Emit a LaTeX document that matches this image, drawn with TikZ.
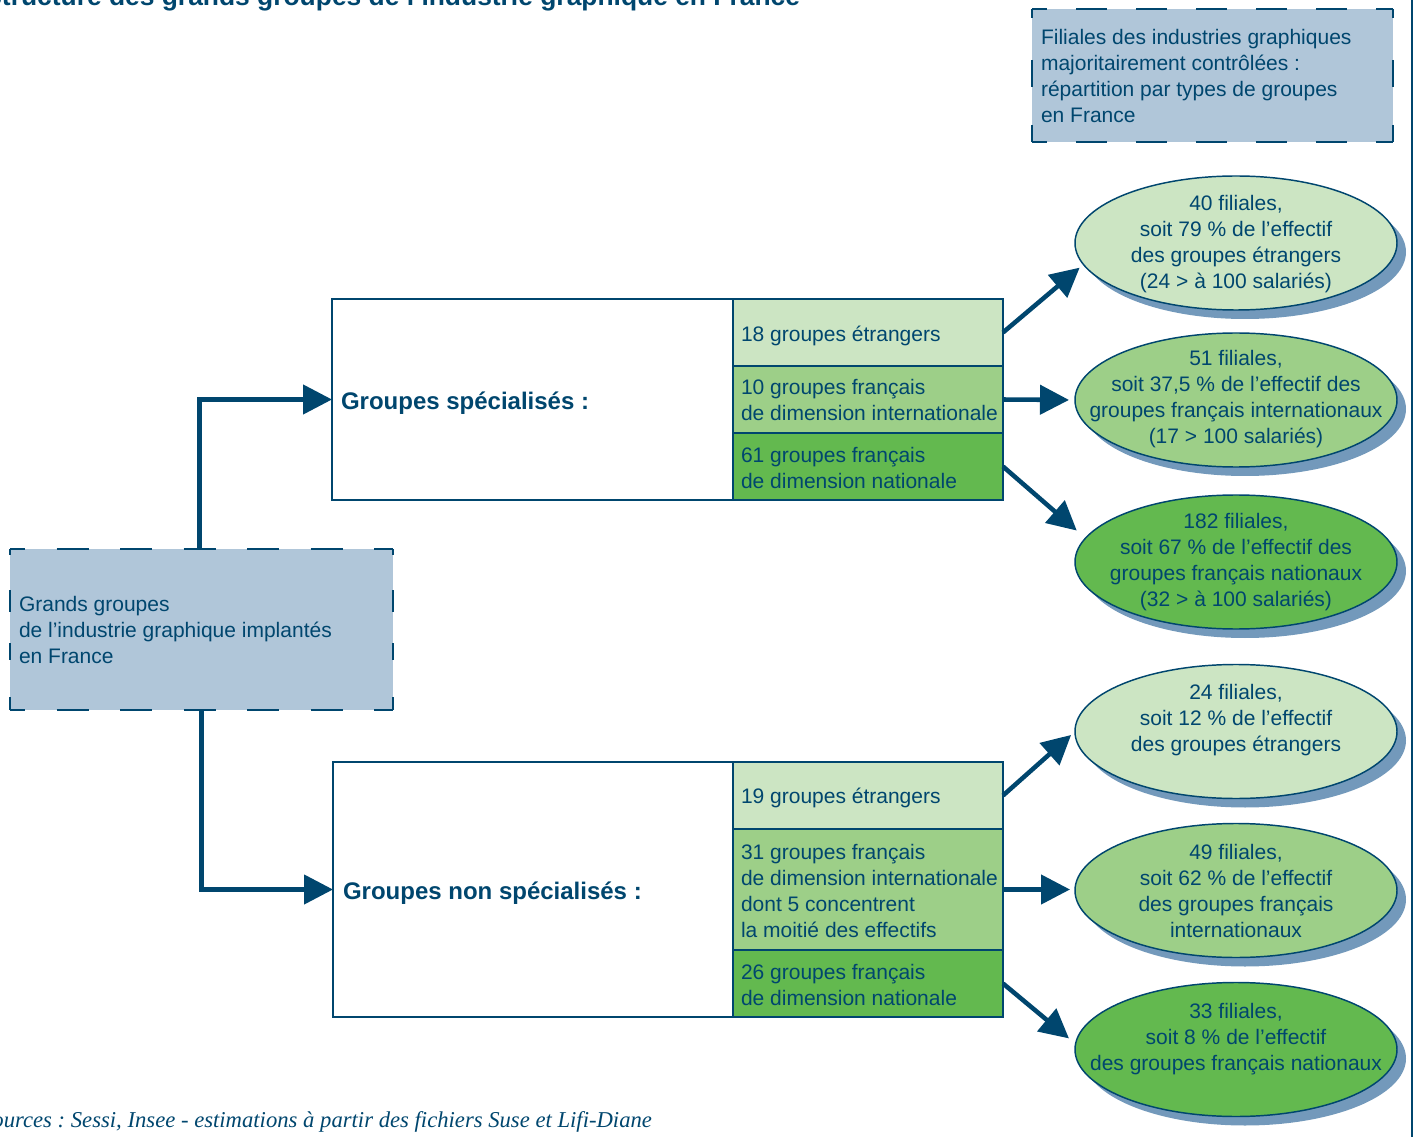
\documentclass[tikz,border=0pt]{standalone}
\usepackage{fontspec}
\setmainfont{Liberation Sans}
\newfontfamily\srcfont{Liberation Serif}
\usetikzlibrary{arrows.meta,shapes.geometric,shadows}
\definecolor{navy}{HTML}{00466E}
\definecolor{boxblue}{HTML}{B0C6D9}
\definecolor{gone}{HTML}{CCE5C3}
\definecolor{gtwo}{HTML}{9DCF88}
\definecolor{gthree}{HTML}{63B94F}
\definecolor{shadowblue}{HTML}{7399BB}
\frenchspacing
\begin{document}
\begin{tikzpicture}[x=0.75pt,y=-0.75pt,
  every node/.style={inner sep=0pt, outer sep=0pt},
  body/.style={font=\fontsize{15.75}{19.5}\selectfont, text=navy, align=left},
  etxt/.style={font=\fontsize{15.75}{19.5}\selectfont, text=navy, align=center},
  lbl/.style={font=\fontsize{18}{21.6}\selectfont\bfseries, text=navy, anchor=west},
  dline/.style={draw=navy, line width=1.5pt},
  hdashA/.style={dline, dash pattern=on 23.25pt off 21.75pt, dash phase=12pt},
  hdashB/.style={dline, dash pattern=on 24pt off 23.625pt, dash phase=12.75pt},
  vdashA/.style={dline, dash pattern=on 6.75pt off 31.5pt on 20.25pt off 28.5pt on 12.75pt off 60pt},
  vdashB/.style={dline, dash pattern=on 4.5pt off 26.25pt on 16.5pt off 23.25pt on 12.75pt off 27.75pt on 9.75pt off 60pt},
  wbox/.style={draw=navy, line width=1.1pt, fill=white, anchor=north west},
  subbox/.style={draw=navy, line width=1.1pt, minimum width=202.5pt, anchor=north west},
  ell/.style={ellipse, draw=navy, line width=1.1pt, minimum width=241.5pt, minimum height=100.5pt,
    drop shadow={shadow xshift=6.75pt, shadow yshift=-6.75pt, fill=shadowblue, opacity=1}},
  conn/.style={draw=navy, line width=3.4pt, -{Triangle[length=21.75pt,width=21.75pt]}}
]
\useasboundingbox (0,0) rectangle (1418,1137);

% title and source
\node[font=\fontsize{19.8}{24}\selectfont\bfseries, text=navy, anchor=base east] (title) at (800,6)
  {Structure des grands groupes de l’industrie graphique en France};
\node[font=\srcfont\itshape\fontsize{17}{20}\selectfont, text=navy, anchor=base east] (src) at (652,1127)
  {Sources : Sessi, Insee - estimations à partir des fichiers Suse et Lifi-Diane};

% right frame line
\draw[navy, line width=1.1pt] (1412,0) -- (1412,1137);

% top-right dashed box
\node[fill=boxblue, minimum width=270.75pt, minimum height=99.75pt, anchor=north west] (fbox) at (1032,9) {};
\draw[hdashA] (fbox.north west) -- (fbox.north east);
\draw[hdashA] (fbox.south west) -- (fbox.south east);
\draw[vdashA] (fbox.north west) -- (fbox.south west);
\draw[vdashA] (fbox.north east) -- (fbox.south east);
\node[body, anchor=west] (ftxt) at ([xshift=6.75pt]fbox.west)
  {Filiales des industries graphiques\\majoritairement contrôlées :\\répartition par types de groupes\\en France};

% left dashed box
\node[fill=boxblue, minimum width=287.25pt, minimum height=120.75pt, anchor=north west] (lbox) at (10,549) {};
\draw[hdashB] (lbox.north west) -- (lbox.north east);
\draw[hdashB] (lbox.south west) -- (lbox.south east);
\draw[vdashB] (lbox.north west) -- (lbox.south west);
\draw[vdashB] (lbox.north east) -- (lbox.south east);
\node[body, anchor=west] (ltxt) at ([xshift=6.75pt]lbox.west)
  {Grands groupes\\de l’industrie graphique implantés\\en France};

% upper group
\node[wbox, minimum width=300.75pt, minimum height=150.75pt] (w1) at (332,299) {};
\node[lbl] (l1) at ([xshift=6.75pt,yshift=-2.5pt]w1.west) {Groupes spécialisés :};
\node[subbox, fill=gone,   minimum height=50.25pt] (s1) at (733,299) {};
\node[subbox, fill=gtwo,   minimum height=50.25pt] (s2) at (733,366) {};
\node[subbox, fill=gthree, minimum height=50.25pt] (s3) at (733,433) {};
\node[body, anchor=west] (x1) at ([xshift=6pt,yshift=-2.25pt]s1.west) {18 groupes étrangers};
\node[body, anchor=west] (x2) at ([xshift=6pt]s2.west) {10 groupes français\\de dimension internationale};
\node[body, anchor=west] (x3) at ([xshift=6pt,yshift=-0.75pt]s3.west) {61 groupes français\\de dimension nationale};

% lower group
\node[wbox, minimum width=300pt, minimum height=191.25pt] (w2) at (333,762) {};
\node[lbl] (l2) at ([xshift=7.5pt,yshift=-2.5pt]w2.west) {Groupes non spécialisés :};
\node[subbox, fill=gone,   minimum height=50.25pt] (s4) at (733,762) {};
\node[subbox, fill=gtwo,   minimum height=90.75pt] (s5) at (733,829) {};
\node[subbox, fill=gthree, minimum height=50.25pt] (s6) at (733,950) {};
\node[body, anchor=west] (x4) at ([xshift=6pt,yshift=-1.5pt]s4.west) {19 groupes étrangers};
\node[body, anchor=west] (x5) at ([xshift=6pt,yshift=-0.75pt]s5.west) {31 groupes français\\de dimension internationale\\dont 5 concentrent\\la moitié des effectifs};
\node[body, anchor=west] (x6) at ([xshift=6pt,yshift=-0.75pt]s6.west) {26 groupes français\\de dimension nationale};

% ellipses
\node[ell, fill=gone]   (e1) at (1236,243) {};
\node[ell, fill=gtwo]   (e2) at (1236,400) {};
\node[ell, fill=gthree] (e3) at (1236,562) {};
\node[ell, fill=gone]   (e4) at (1236,731.5) {};
\node[ell, fill=gtwo]   (e5) at (1236,890.5) {};
\node[ell, fill=gthree] (e6) at (1236,1049.5) {};
\node[etxt] (t1) at ([yshift=-0.75pt]e1.center) {40 filiales,\\soit 79 \% de l’effectif\\des groupes étrangers\\(24 > à 100 salariés)};
\node[etxt] (t2) at ([yshift=0.75pt]e2.center) {51 filiales,\\soit 37,5 \% de l’effectif des\\groupes français internationaux\\(17 > 100 salariés)};
\node[etxt] (t3) at (e3) {182 filiales,\\soit 67 \% de l’effectif des\\groupes français nationaux\\(32 > à 100 salariés)};
\node[etxt] (t4) at ([yshift=8.25pt]e4.center) {24 filiales,\\soit 12 \% de l’effectif\\des groupes étrangers};
\node[etxt] (t5) at (e5) {49 filiales,\\soit 62 \% de l’effectif\\des groupes français\\internationaux};
\node[etxt] (t6) at ([yshift=7.9pt]e6.center) {33 filiales,\\soit 8 \% de l’effectif\\des groupes français nationaux};

% connectors
\draw[conn] ([xshift=-1.5pt]lbox.north) |- (w1.west);
\draw[conn] (lbox.south) |- (w2.west);
\draw[conn, shorten >=3.75pt] (s1.east) -- (e1.188);
\draw[conn, shorten >=4.5pt]  (s2.east) -- (e2.west);
\draw[conn, shorten >=8.7pt]  (s3.east) -- (e3.171);
\draw[conn, shorten >=3.9pt]  (s4.east) -- (e4.west);
\draw[conn, shorten >=3.75pt] (s5.east) -- ([yshift=0.75pt]e5.west);
\draw[conn, shorten >=6.45pt] (s6.east) -- (e6.178);
\end{tikzpicture}
\end{document}
